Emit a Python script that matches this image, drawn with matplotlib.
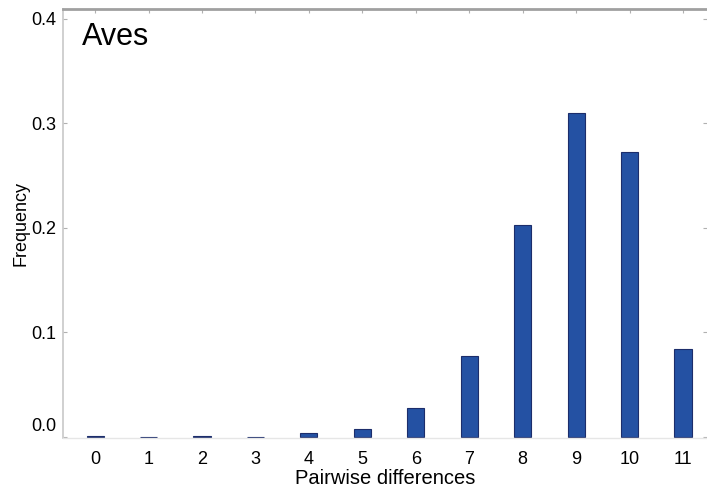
import matplotlib
matplotlib.use("Agg")
import matplotlib.pyplot as plt
import matplotlib.transforms as mtrans

plt.rcParams['font.family'] = ['Liberation Sans', 'DejaVu Sans']

# pairwise differences for Aves
diffs = [0, 1, 2, 3, 4, 5, 6, 7, 8, 9, 10, 11]
freq = [0.0008, 0.0003, 0.0008, 0.0003, 0.0035, 0.008, 0.028, 0.077, 0.203, 0.310, 0.273, 0.084]
yticks = [0.0, 0.1, 0.2, 0.3, 0.4]

fig = plt.figure(figsize=(7.07, 4.95), dpi=100)
ax = fig.add_axes([63/707, 1-438/495, 1-63/707, 429/495])

ax.bar(diffs, freq, width=0.32, color='#2451a3', edgecolor='#1c2d6b', linewidth=0.8)

ax.set_xlim(-0.6, 11.45)
ax.set_ylim(-0.001, 0.4095)
ax.set_xticks(diffs)
ax.set_yticks(yticks)
ax.set_yticklabels(["%.1f" % v for v in yticks])

ax.spines['left'].set_color('#c8c8c8')
ax.spines['left'].set_linewidth(1.2)
ax.spines['right'].set_visible(False)
ax.spines['top'].set_color('#a0a0a0')
ax.spines['top'].set_linewidth(2)
ax.spines['bottom'].set_color('#e6e6e6')
ax.spines['bottom'].set_linewidth(1)

ax.tick_params(axis='both', direction='in', length=3, color='#b0b0b0', labelsize=13, pad=6)
ax.tick_params(axis='x', top=True, bottom=False, pad=9)
ax.tick_params(axis='y', right=True, pad=5)

# the 0.0 label sits a bit above the baseline in the original
lab0 = ax.get_yticklabels()[0]
lab0.set_transform(lab0.get_transform() + mtrans.ScaledTranslation(0, 12/100, fig.dpi_scale_trans))

ax.set_xlabel("Pairwise differences", fontsize=14.5, labelpad=1)
ax.set_ylabel("Frequency", fontsize=13, labelpad=1)

ax.text(0.03, 0.97, "Aves", transform=ax.transAxes, fontsize=22, va='top', ha='left')

fig.savefig("out.png", dpi=100)
